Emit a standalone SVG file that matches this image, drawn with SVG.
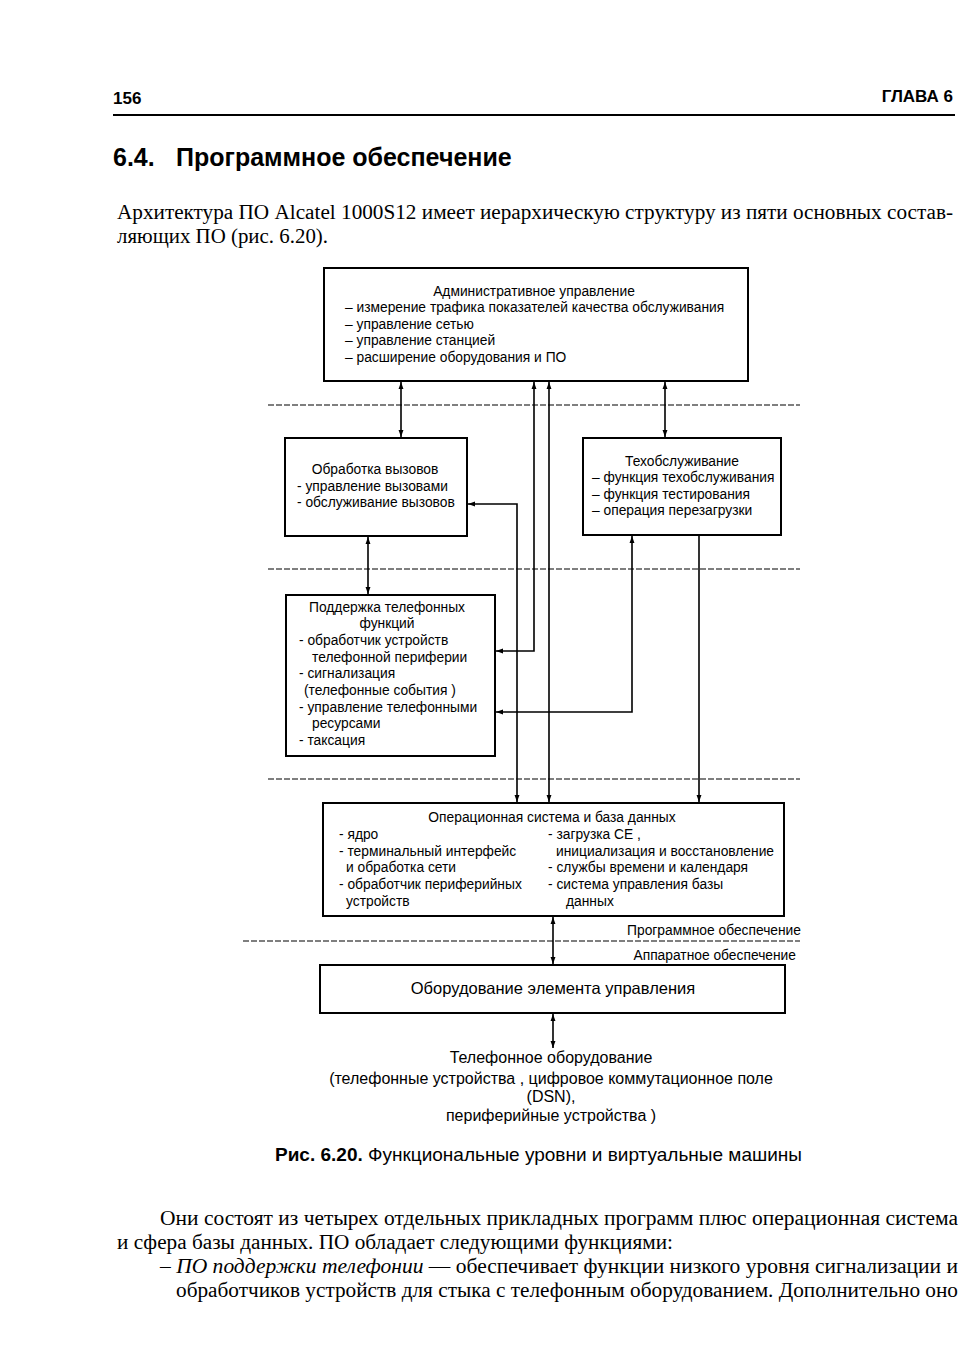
<svg xmlns="http://www.w3.org/2000/svg" width="976" height="1359" viewBox="0 0 976 1359">
<defs>
<marker id="ah" viewBox="0 0 10 10" refX="10" refY="5" markerWidth="7" markerHeight="7" orient="auto-start-reverse" markerUnits="userSpaceOnUse">
<path d="M0,1.5 L10,5 L0,8.5 z" fill="#000"/>
</marker>
<style>
.box{fill:#fff;stroke:#000;stroke-width:2}
.d{font-family:"Liberation Sans",Arial,sans-serif;font-size:13.8px;fill:#000}
.c{text-anchor:middle}
.ln{fill:none;stroke:#000;stroke-width:1.6}
.dash{fill:none;stroke:#000;stroke-width:1.2;stroke-dasharray:6 2}
.serif{font-family:"Liberation Serif","Times New Roman",serif;font-size:20.5px;fill:#000}
</style>
</defs>
<rect width="976" height="1359" fill="#fff"/>

<g id="page-header">
<text x="113" y="104" font-family="Liberation Sans,Arial,sans-serif" font-weight="bold" font-size="17" fill="#000">156</text>
<text x="953" y="102" font-family="Liberation Sans,Arial,sans-serif" font-weight="bold" font-size="17" fill="#000" text-anchor="end">ГЛАВА 6</text>
<line x1="113" y1="115" x2="955" y2="115" stroke="#000" stroke-width="2"/>
<text y="166" font-family="Liberation Sans,Arial,sans-serif" font-weight="bold" font-size="25" fill="#000"><tspan x="113">6.4.</tspan><tspan x="176">Программное обеспечение</tspan></text>
<text class="serif" x="117" y="219" textLength="836" lengthAdjust="spacingAndGlyphs">Архитектура ПО Alcatel 1000S12 имеет иерархическую структуру из пяти основных состав-</text>
<text class="serif" x="117" y="243" textLength="211" lengthAdjust="spacingAndGlyphs">ляющих ПО (рис. 6.20).</text>
</g>

<g id="layers">
<line class="dash" x1="268" y1="405" x2="800" y2="405"/>
<line class="dash" x1="268" y1="569" x2="800" y2="569"/>
<line class="dash" x1="268" y1="779" x2="800" y2="779"/>
<line class="dash" x1="243" y1="941" x2="800" y2="941"/>
<text class="d" x="801" y="935" text-anchor="end">Программное обеспечение</text>
<text class="d" x="796" y="960" text-anchor="end">Аппаратное обеспечение</text>
</g>

<g id="connectors">
<line class="ln" x1="401" y1="382" x2="401" y2="437" marker-start="url(#ah)" marker-end="url(#ah)"/>
<line class="ln" x1="665" y1="382" x2="665" y2="437" marker-start="url(#ah)" marker-end="url(#ah)"/>
<line class="ln" x1="368" y1="537" x2="368" y2="594" marker-start="url(#ah)" marker-end="url(#ah)"/>
<polyline class="ln" points="468,504 517,504 517,802" marker-start="url(#ah)" marker-end="url(#ah)"/>
<polyline class="ln" points="534,382 534,651 496,651" marker-start="url(#ah)" marker-end="url(#ah)"/>
<line class="ln" x1="549" y1="382" x2="549" y2="802" marker-start="url(#ah)" marker-end="url(#ah)"/>
<polyline class="ln" points="632,536 632,712 496,712" marker-start="url(#ah)" marker-end="url(#ah)"/>
<line class="ln" x1="699" y1="536" x2="699" y2="802" marker-end="url(#ah)"/>
<line class="ln" x1="553" y1="917" x2="553" y2="964" marker-start="url(#ah)" marker-end="url(#ah)"/>
<line class="ln" x1="553" y1="1014" x2="553" y2="1048" marker-start="url(#ah)" marker-end="url(#ah)"/>
</g>

<g id="admin">
<rect class="box" x="324" y="268" width="424" height="113"/>
<text class="d c" x="534" y="296">Административное управление</text>
<text class="d" x="345" y="312">– измерение трафика показателей качества обслуживания</text>
<text class="d" x="345" y="329">– управление сетью</text>
<text class="d" x="345" y="345">– управление станцией</text>
<text class="d" x="345" y="362">– расширение оборудования и ПО</text>
</g>

<g id="call-processing">
<rect class="box" x="285" y="438" width="182" height="98"/>
<text class="d c" x="375" y="474">Обработка вызовов</text>
<text class="d" x="297" y="491">- управление вызовами</text>
<text class="d" x="297" y="507">- обслуживание вызовов</text>
</g>

<g id="maintenance">
<rect class="box" x="583" y="438" width="198" height="97"/>
<text class="d c" x="682" y="466">Техобслуживание</text>
<text class="d" x="592" y="482">– функция техобслуживания</text>
<text class="d" x="592" y="499">– функция тестирования</text>
<text class="d" x="592" y="515">– операция перезагрузки</text>
</g>

<g id="telephony-support">
<rect class="box" x="286" y="595" width="209" height="161"/>
<text class="d c" x="387" y="612">Поддержка телефонных</text>
<text class="d c" x="387" y="628">функций</text>
<text class="d" x="299" y="645">- обработчик устройств</text>
<text class="d" x="312" y="662">телефонной периферии</text>
<text class="d" x="299" y="678">- сигнализация</text>
<text class="d" x="304" y="695">(телефонные события )</text>
<text class="d" x="299" y="712">- управление телефонными</text>
<text class="d" x="312" y="728">ресурсами</text>
<text class="d" x="299" y="745">- таксация</text>
</g>

<g id="os-db">
<rect class="box" x="323" y="803" width="461" height="113"/>
<text class="d c" x="552" y="822">Операционная система и база данных</text>
<text class="d" x="339" y="839">- ядро</text>
<text class="d" x="339" y="856">- терминальный интерфейс</text>
<text class="d" x="346" y="872">и обработка сети</text>
<text class="d" x="339" y="889">- обработчик периферийных</text>
<text class="d" x="346" y="906">устройств</text>
<text class="d" x="548" y="839">- загрузка СЕ ,</text>
<text class="d" x="556" y="856">инициализация и восстановление</text>
<text class="d" x="548" y="872">- службы времени и календаря</text>
<text class="d" x="548" y="889">- система управления базы</text>
<text class="d" x="566" y="906">данных</text>
</g>

<g id="control-hw">
<rect class="box" x="320" y="965" width="465" height="48"/>
<text class="d c" x="553" y="994" style="font-size:16.5px">Оборудование элемента управления</text>
</g>

<g id="phone-equipment">
<text class="d c" x="551" y="1063" style="font-size:16px">Телефонное оборудование</text>
<text class="d c" x="551" y="1084" style="font-size:16px">(телефонные устройства , цифровое коммутационное поле</text>
<text class="d c" x="551" y="1102" style="font-size:16px">(DSN),</text>
<text class="d c" x="551" y="1121" style="font-size:16px">периферийные устройства )</text>
</g>

<g id="caption">
<text x="275" y="1161" font-family="Liberation Sans,Arial,sans-serif" font-size="18.5" fill="#000" textLength="527" lengthAdjust="spacingAndGlyphs"><tspan font-weight="bold">Рис. 6.20.</tspan> Функциональные уровни и виртуальные машины</text>
</g>

<g id="body-text">
<text class="serif" x="160" y="1225" textLength="798" lengthAdjust="spacingAndGlyphs">Они состоят из четырех отдельных прикладных программ плюс операционная система</text>
<text class="serif" x="117" y="1249" textLength="556" lengthAdjust="spacingAndGlyphs">и сфера базы данных. ПО обладает следующими функциями:</text>
<text class="serif" x="160" y="1273" textLength="798" lengthAdjust="spacingAndGlyphs">– <tspan font-style="italic">ПО поддержки телефонии</tspan> — обеспечивает функции низкого уровня сигнализации и</text>
<text class="serif" x="176" y="1297" textLength="782" lengthAdjust="spacingAndGlyphs">обработчиков устройств для стыка с телефонным оборудованием. Дополнительно оно</text>
</g>
</svg>
